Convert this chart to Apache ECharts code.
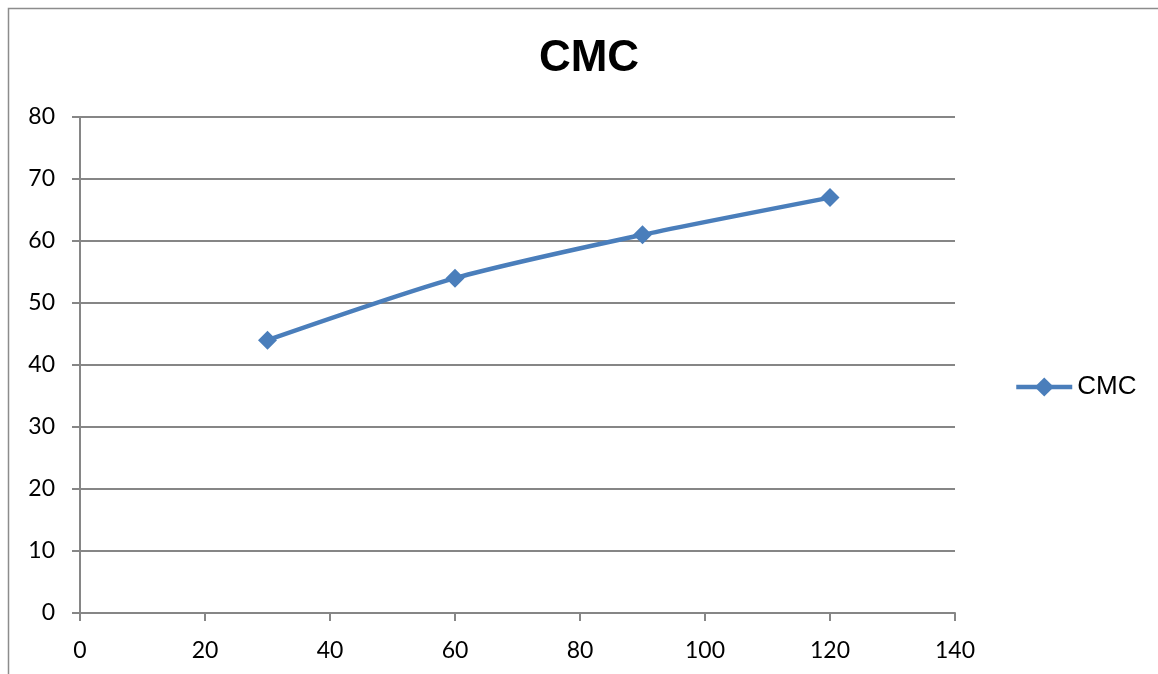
<!DOCTYPE html>
<html>
<head>
<meta charset="utf-8">
<script src="https://cdn.jsdelivr.net/npm/echarts@6/dist/echarts.min.js"></script>
<style>
  html, body { margin: 0; padding: 0; background: #fff; }
  #chart { width: 1158px; height: 674px; }
</style>
</head>
<body>
<div id="chart"></div>
<script>
// CMC measurements
const seriesName = 'CMC';
const xValues = [30, 60, 90, 120];
const yValues = [44, 54, 61, 67];

const chart = echarts.init(document.getElementById('chart'));
const axisGray = '#868686';
const tickFont = { color: '#000', fontSize: 23, fontFamily: 'Lato, "Open Sans", sans-serif' };

chart.setOption({
  backgroundColor: '#fff',
  animation: false,
  graphic: [{
    type: 'rect',
    shape: { x: 8.5, y: 8.5, width: 1170, height: 700 },
    style: { fill: 'none', stroke: '#8c8c8c', lineWidth: 1.5 },
    silent: true
  }],
  title: {
    text: 'CMC',
    left: 584, top: 32, textAlign: 'center',
    textStyle: { fontFamily: 'Arial, "Liberation Sans", sans-serif', fontWeight: 'bold', fontSize: 44, color: '#000' }
  },
  legend: {
    left: 1009, top: 369,
    orient: 'vertical',
    itemWidth: 56, itemHeight: 24, itemGap: 4,
    lineStyle: { width: 4.5 },
    textStyle: { fontFamily: 'Arial, "Liberation Sans", sans-serif', fontSize: 26, color: '#000' },
    data: [seriesName]
  },
  grid: { left: 80, right: 203, top: 117, bottom: 61, containLabel: false },
  xAxis: {
    type: 'value', min: 0, max: 140, interval: 20,
    axisLine: { show: true, onZero: false, lineStyle: { color: axisGray, width: 2 } },
    axisTick: { show: true, length: 8, lineStyle: { color: axisGray, width: 2 } },
    axisLabel: Object.assign({ margin: 26 }, tickFont),
    splitLine: { show: false }
  },
  yAxis: {
    type: 'value', min: 0, max: 80, interval: 10,
    axisLine: { show: true, onZero: false, lineStyle: { color: axisGray, width: 2 } },
    axisTick: { show: true, length: 8, lineStyle: { color: axisGray, width: 2 } },
    axisLabel: Object.assign({ margin: 25 }, tickFont),
    splitLine: { show: true, lineStyle: { color: axisGray, width: 2 } }
  },
  series: [{
    name: seriesName,
    type: 'line',
    smooth: 0.25,
    data: xValues.map((x, i) => [x, yValues[i]]),
    symbol: 'diamond',
    symbolSize: 19,
    lineStyle: { color: '#4a7ebb', width: 4.5 },
    itemStyle: { color: '#4a7ebb' }
  }]
});
</script>
</body>
</html>
